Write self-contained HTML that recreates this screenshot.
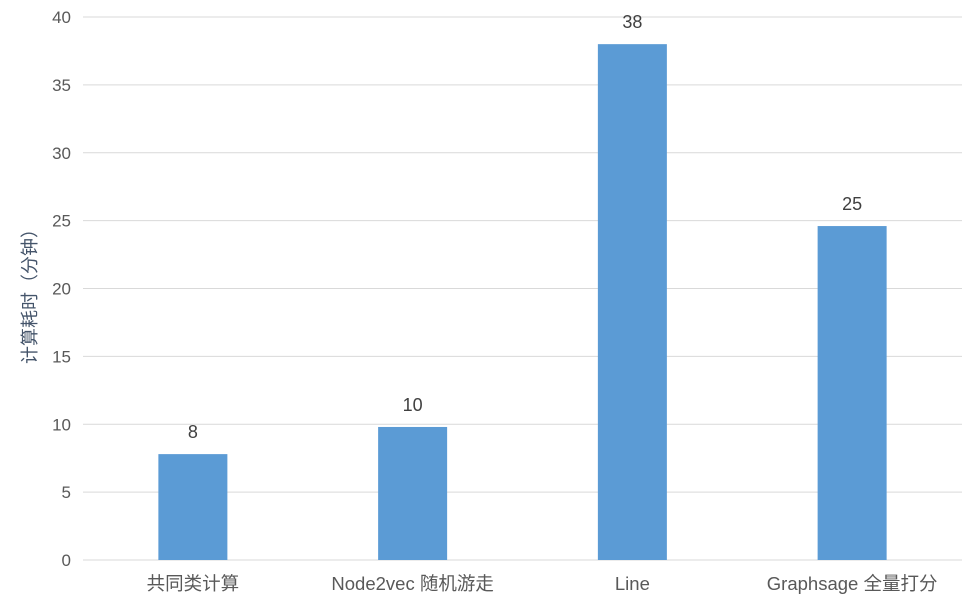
<!DOCTYPE html>
<html><head><meta charset="utf-8"><style>
html,body{margin:0;padding:0;background:#fff;}
svg{display:block;font-family:"Liberation Sans","Noto Sans CJK SC",sans-serif;}
</style></head><body>
<svg id="chart" width="972" height="605"></svg>
<script>
const categories = ["共同类计算","Node2vec 随机游走","Line","Graphsage 全量打分"];
const values = [7.8, 9.8, 38.0, 24.6];
const valueLabels = ["8","10","38","25"];
const yTicks = [0,5,10,15,20,25,30,35,40];

const svg = document.getElementById('chart');
const NS = 'http://www.w3.org/2000/svg';
const plotLeft = 83, plotRight = 962, plotTop = 17, plotBottom = 560, yMax = 40;
const y = v => plotBottom - (v / yMax) * (plotBottom - plotTop);
const band = (plotRight - plotLeft) / categories.length;
const xc = i => plotLeft + band * (i + 0.5);
const barW = 69;

function mk(tag, attrs, text){
  const e = document.createElementNS(NS, tag);
  for (const k in attrs) e.setAttribute(k, attrs[k]);
  if (text !== undefined) e.textContent = text;
  svg.appendChild(e);
  return e;
}

yTicks.forEach(t => {
  const g = mk('line', {x1:plotLeft, x2:plotRight, y1:y(t), y2:y(t), stroke:'#d9d9d9', 'stroke-width':1});
  
  
  const l = mk('text', {x:71, y:y(t)+6, 'text-anchor':'end', 'font-size':17, fill:'#595959'}, String(t));
  
  
});

categories.forEach((c, i) => {
  const r = mk('rect', {x:xc(i)-barW/2, y:y(values[i]), width:barW, height:plotBottom-y(values[i]), fill:'#5b9bd5'});
  
  
  const v = mk('text', {x:xc(i), y:y(values[i])-16, 'text-anchor':'middle', 'font-size':18, fill:'#404040'}, valueLabels[i]);
  
  
  const cl = mk('text', {x:xc(i), y:590, 'text-anchor':'middle', 'font-size':18.5, fill:'#595959'}, c);
  
  
});

const yt = mk('text', {x:0, y:0, 'text-anchor':'middle', 'font-size':18, fill:'#44546a', transform:'translate(36,292) rotate(-90)'}, '计算耗时（分钟）');


</script>
</body></html>
